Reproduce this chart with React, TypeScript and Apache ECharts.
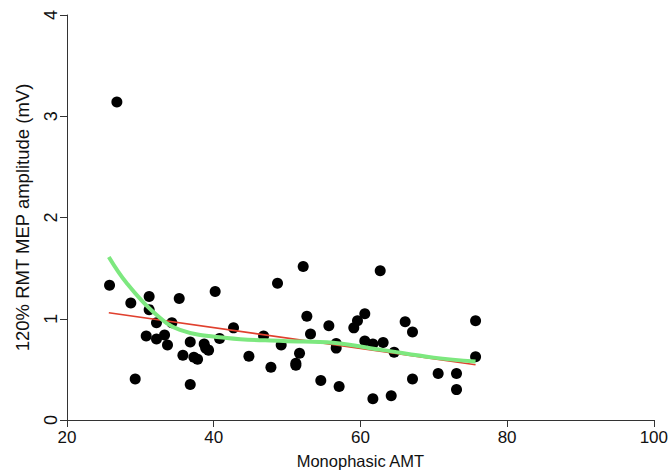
import React, { useEffect, useRef } from "react";
import * as echarts from "echarts";

const amtX = [25.8, 26.8, 28.7, 29.3, 31.2, 31.2, 32.2, 30.8, 32.2, 33.3, 33.7, 34.3, 35.3, 35.8, 36.8, 36.8, 37.3, 37.8, 38.7, 38.9, 39.3, 40.2, 40.8, 42.7, 44.8, 46.8, 47.8, 48.7, 49.2, 51.2, 51.2, 51.7, 52.2, 52.7, 53.2, 54.6, 55.7, 56.7, 56.7, 57.1, 59.1, 59.6, 60.6, 60.6, 61.7, 61.7, 62.7, 63.1, 64.2, 64.6, 66.1, 67.1, 67.1, 70.6, 73.1, 73.1, 75.7, 75.7];
const mepY = [1.33, 3.14, 1.155, 0.405, 1.22, 1.09, 0.96, 0.83, 0.8, 0.84, 0.74, 0.96, 1.2, 0.64, 0.77, 0.35, 0.62, 0.6, 0.75, 0.71, 0.69, 1.27, 0.805, 0.91, 0.63, 0.83, 0.52, 1.35, 0.74, 0.56, 0.54, 0.66, 1.515, 1.025, 0.85, 0.39, 0.93, 0.755, 0.71, 0.33, 0.91, 0.98, 1.05, 0.78, 0.75, 0.21, 1.475, 0.765, 0.24, 0.67, 0.97, 0.87, 0.405, 0.46, 0.46, 0.3, 0.98, 0.625];

const linFitX = [25.7, 75.7];
const linFitY = [1.06, 0.545];

const loessX = [25.7, 28.1, 31.8, 35.4, 41.8, 49.5, 56.3, 63.1, 70.0, 75.7];
const loessY = [1.61, 1.355, 1.064, 0.89, 0.81, 0.78, 0.762, 0.69, 0.616, 0.577];

const xTicks = [20, 40, 60, 80, 100];
const yTicks = [0, 1, 2, 3, 4];

const FONT = "'Liberation Sans', Arial, Helvetica, sans-serif";

export default function App() {
  const ref = useRef<HTMLDivElement>(null);
  useEffect(() => {
    if (!ref.current) return;
    const chart = echarts.init(ref.current, undefined, { renderer: "svg" });
    const axisColor = "#333";
    chart.setOption({
      animation: false,
      backgroundColor: "#fff",
      grid: { left: 67, right: 17, top: 15, bottom: 48 },
      xAxis: {
        type: "value",
        min: xTicks[0],
        max: xTicks[xTicks.length - 1],
        interval: 20,
        name: "Monophasic AMT",
        nameLocation: "middle",
        nameGap: 32,
        nameTextStyle: { fontFamily: FONT, fontSize: 16.5, color: "#111" },
        axisLine: { onZero: false, lineStyle: { color: axisColor, width: 1 } },
        axisTick: { show: true, length: 7, lineStyle: { color: axisColor } },
        axisLabel: { fontFamily: FONT, fontSize: 17, color: "#111", margin: 9 },
        splitLine: { show: false },
      },
      yAxis: {
        type: "value",
        min: yTicks[0],
        max: yTicks[yTicks.length - 1],
        interval: 1,
        name: "120% RMT MEP amplitude (mV)",
        nameLocation: "middle",
        nameRotate: 90,
        nameGap: 35,
        nameTextStyle: { fontFamily: FONT, fontSize: 18.5, color: "#111" },
        axisLine: { show: true, lineStyle: { color: axisColor, width: 1 } },
        axisTick: { show: true, length: 7, lineStyle: { color: axisColor } },
        axisLabel: { fontFamily: FONT, fontSize: 18, color: "#111", rotate: 90, margin: 7 },
        splitLine: { show: false },
      },
      series: [
        {
          type: "scatter",
          data: amtX.map((x, i) => [x, mepY[i]]),
          symbol: "circle",
          symbolSize: 11,
          itemStyle: { color: "#000", opacity: 1 },
          z: 2,
        },
        {
          type: "line",
          data: linFitX.map((x, i) => [x, linFitY[i]]),
          showSymbol: false,
          lineStyle: { color: "#e0402e", width: 1.6 },
          z: 3,
        },
        {
          type: "line",
          data: loessX.map((x, i) => [x, loessY[i]]),
          showSymbol: false,
          smooth: 0.4,
          lineStyle: { color: "#7de87f", width: 4 },
          z: 4,
        },
      ],
    });
    return () => chart.dispose();
  }, []);
  return <div ref={ref} style={{ width: 671, height: 474, position: "absolute", left: 0, top: 0 }} />;
}
